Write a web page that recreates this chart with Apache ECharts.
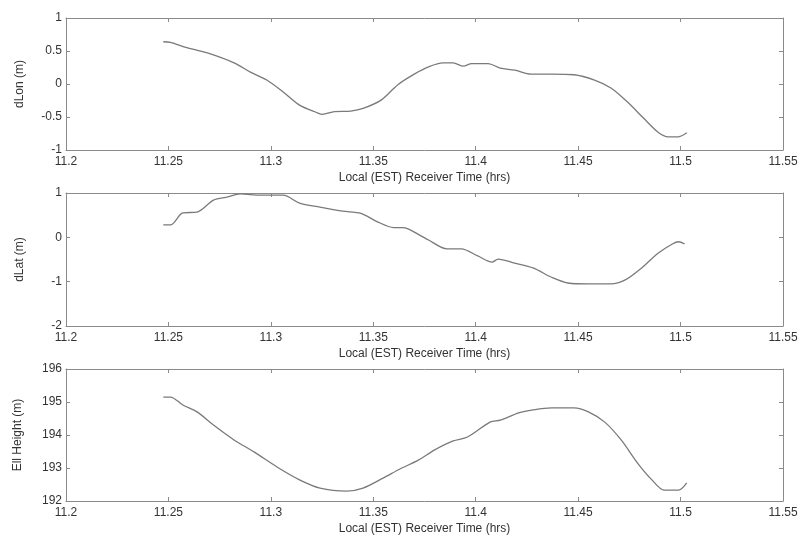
<!DOCTYPE html>
<html><head><meta charset="utf-8">
<script src="https://cdn.jsdelivr.net/npm/echarts@6/dist/echarts.min.js"></script>
<style>html,body{margin:0;padding:0;background:#fff}#c{width:803px;height:541px}</style>
</head><body><div id="c"></div>
<script>
const xTitle = "Local (EST) Receiver Time (hrs)";
const yTitles = ["dLon (m)", "dLat (m)", "Ell Height (m)"];

const lonT = [11.2475,11.251,11.259,11.269,11.282,11.290,11.298,11.306,11.314,11.323,11.325,11.331,11.339,11.345,11.354,11.362,11.370,11.377,11.384,11.389,11.394,11.398,11.406,11.412,11.419,11.427,11.437,11.448,11.458,11.466,11.474,11.482,11.489,11.494,11.499,11.503];
const lonV = [0.64,0.63,0.55,0.47,0.32,0.18,0.06,-0.12,-0.32,-0.44,-0.46,-0.42,-0.41,-0.37,-0.24,-0.01,0.15,0.26,0.32,0.32,0.27,0.31,0.31,0.24,0.21,0.15,0.15,0.14,0.06,-0.06,-0.27,-0.52,-0.73,-0.80,-0.80,-0.74];

const latT = [11.2475,11.251,11.257,11.264,11.272,11.279,11.285,11.295,11.306,11.314,11.324,11.335,11.344,11.352,11.360,11.364,11.367,11.377,11.386,11.393,11.401,11.408,11.411,11.419,11.428,11.437,11.445,11.455,11.466,11.473,11.481,11.489,11.496,11.499,11.502];
const latV = [0.28,0.28,0.55,0.57,0.84,0.91,0.98,0.95,0.95,0.77,0.68,0.59,0.54,0.35,0.22,0.22,0.19,-0.06,-0.26,-0.26,-0.42,-0.56,-0.49,-0.58,-0.69,-0.90,-1.03,-1.05,-1.05,-0.96,-0.69,-0.36,-0.15,-0.10,-0.15];

const hT = [11.2475,11.251,11.257,11.264,11.272,11.282,11.292,11.303,11.314,11.324,11.337,11.345,11.355,11.363,11.372,11.380,11.389,11.396,11.407,11.412,11.421,11.428,11.437,11.448,11.455,11.463,11.471,11.479,11.486,11.492,11.499,11.503];
const hV = [195.15,195.15,194.91,194.70,194.30,193.85,193.48,193.03,192.64,192.39,192.30,192.39,192.70,192.97,193.24,193.55,193.82,193.94,194.39,194.45,194.67,194.76,194.82,194.82,194.70,194.39,193.85,193.15,192.64,192.33,192.33,192.55];

const yRanges = [[-1,1,0.5],[-2,1,1],[192,196,1]];
const xMin = 11.2, xMax = 11.55, xStep = 0.05;

const frame = '#8a8a8a', txt = '#333', lineC = '#7a7a7a';
const font = 'Liberation Sans, Arial, sans-serif';
const grids = [
  {left:66, right:20, top:18, height:132},
  {left:66, right:20, top:193, height:133},
  {left:66, right:20, top:369, height:132}
];
const xAxes = [], yAxes = [], series = [];
const allT = [lonT, latT, hT], allV = [lonV, latV, hV];
grids.forEach((g,i)=>{
  const base = {type:'value', min:xMin, max:xMax, interval:xStep, gridIndex:i,
    axisLine:{show:true, onZero:false, lineStyle:{color:frame, width:1}},
    axisTick:{show:true, inside:true, length:4, lineStyle:{color:frame}},
    splitLine:{show:false}};
  xAxes.push(Object.assign({}, base, {position:'bottom',
    name:xTitle, nameLocation:'middle', nameGap:22,
    nameTextStyle:{color:txt, fontSize:12, fontFamily:font},
    axisLabel:{color:txt, fontSize:12, fontFamily:font, margin:6,
      formatter:v=>String(+v.toFixed(2))}}));
  xAxes.push(Object.assign({}, base, {position:'top', axisLabel:{show:false}}));
  const r = yRanges[i];
  const yb = {type:'value', min:r[0], max:r[1], interval:r[2], gridIndex:i,
    axisLine:{show:true, onZero:false, lineStyle:{color:frame, width:1}},
    axisTick:{show:true, inside:true, length:4, lineStyle:{color:frame}},
    splitLine:{show:false}};
  yAxes.push(Object.assign({}, yb, {position:'left',
    name:yTitles[i], nameLocation:'middle', nameGap:i===2?42:40,
    nameTextStyle:{color:txt, fontSize:12, fontFamily:font},
    axisLabel:{color:txt, fontSize:12, fontFamily:font, margin:4,
      formatter:v=>String(+v.toFixed(2))}}));
  yAxes.push(Object.assign({}, yb, {position:'right', axisLabel:{show:false}}));
  series.push({type:'line', xAxisIndex:i*2, yAxisIndex:i*2, showSymbol:false, smooth:0.3,
    lineStyle:{color:lineC, width:1.3}, silent:true,
    data: allT[i].map((t,k)=>[t, allV[i][k]])});
});
const chart = echarts.init(document.getElementById('c'));
chart.setOption({animation:false, backgroundColor:'#fff', grid:grids, xAxis:xAxes, yAxis:yAxes, series});
</script></body></html>
